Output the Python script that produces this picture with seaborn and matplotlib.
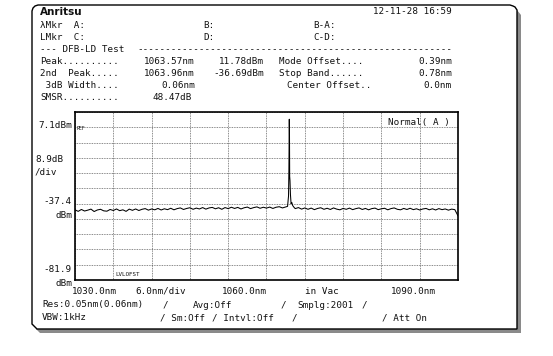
import numpy as np
import pandas as pd
import matplotlib
matplotlib.use("Agg")
import matplotlib.pyplot as plt
from matplotlib.patches import Polygon
import seaborn as sns

sns.set_style("white")
plt.rcParams['font.family'] = ['DejaVu Sans Mono', 'DejaVu Sans']

# instrument settings
ref_level = 7.1
db_per_div = 8.9
wl_start = 1030.0
wl_stop = 1090.0
nm_per_div = 6.0

# trace: noise floor left of the peak (1030.0 .. 1063.0 nm, 0.5 nm apart)
noise_step = 0.5
noise_left = [
    -41.0, -41.9, -40.8, -41.7, -41.2, -40.6, -42.0, -41.1, -40.7, -41.6,
    -41.8, -40.8, -41.4, -40.5, -41.5, -41.0, -41.9, -40.6, -41.3, -40.5,
    -41.4, -40.7, -40.3, -41.2, -40.5, -41.0, -40.2, -41.1, -40.4, -40.9,
    -40.1, -41.0, -40.3, -39.9, -40.8, -40.2, -39.8, -40.7, -40.0, -40.5,
    -39.7, -40.6, -39.9, -39.6, -40.4, -39.8, -40.7, -39.7, -40.3, -39.5,
    -40.2, -39.6, -40.5, -39.8, -39.4, -40.3, -39.7, -39.3, -40.1, -39.5,
    -40.0, -39.4, -40.2, -39.5, -39.2, -39.9, -39.3,
]
# DFB mode + side mode
peak_wl = [1063.30, 1063.45, 1063.51, 1063.54, 1063.57, 1063.60, 1063.63,
           1063.68, 1063.75, 1063.85, 1063.96, 1064.10, 1064.30]
peak_dbm = [-39.0, -33.0, -18.0, -2.0, 11.78, 2.0, -21.5,
            -24.0, -32.0, -37.5, -36.69, -38.5, -39.5]
# noise floor right of the peak (1064.5 .. 1090.0 nm)
right_start = 1064.5
noise_right = [
    -40.3, -39.7, -40.6, -39.9, -40.7, -40.0, -40.9, -40.2, -39.8, -40.7,
    -40.1, -40.8, -39.9, -40.6, -41.0, -40.2, -40.7, -40.0, -40.9, -40.3,
    -39.9, -40.8, -40.2, -41.0, -40.3, -40.0, -40.9, -40.4, -40.1, -41.0,
    -40.3, -39.9, -40.7, -41.0, -40.2, -40.8, -40.1, -40.9, -40.4, -41.1,
    -40.5, -40.2, -41.0, -40.4, -41.1, -40.3, -40.9, -40.5, -41.2, -40.6,
    -40.9, -44.5,
]

wl = np.concatenate([wl_start + noise_step * np.arange(len(noise_left)),
                     peak_wl,
                     right_start + noise_step * np.arange(len(noise_right))])
lvl = np.concatenate([noise_left, peak_dbm, noise_right])
trace = pd.DataFrame({"wavelength": wl, "level": lvl})

W, H = 553, 356
fig = plt.figure(figsize=(W / 100, H / 100), dpi=100)
fig.patch.set_facecolor("white")

# background layer in pixel coords for the screen frame and text
bg = fig.add_axes([0, 0, 1, 1])
bg.set_xlim(0, W)
bg.set_ylim(H, 0)
bg.axis("off")

frame = [(32, 324), (32, 11), (33, 8), (35, 6), (38, 5), (510, 5), (513, 6),
         (515, 7), (517, 10), (517, 329), (37, 329)]
shadow = [(517, 10), (521, 15), (521, 333), (40, 333), (36, 329), (517, 329)]
bg.add_patch(Polygon(shadow, closed=True, fc="#8a8a8a", ec="none"))
bg.add_patch(Polygon(frame, closed=True, fc="white", ec="black", lw=1.0))


def put(x, y, s, ha="left", size=6.7, **kw):
    bg.text(x, y, s, ha=ha, va="center", fontsize=size, color="#111111", **kw)


put(40, 12, "Anritsu", size=7.5, weight="bold", family="DejaVu Sans")
put(373, 12, "12-11-28 16:59")
put(40, 25, "λMkr  A:"); put(203, 25, "B:"); put(313, 25, "B-A:")
put(40, 37, "LMkr  C:"); put(203, 37, "D:"); put(313, 37, "C-D:")
put(40, 50, "--- DFB-LD Test")
put(452, 50, "-" * 56, ha="right")
put(40, 62, "Peak.........."); put(195, 62, "1063.57nm", ha="right")
put(264, 62, "11.78dBm", ha="right"); put(279, 62, "Mode Offset....")
put(452, 62, "0.39nm", ha="right")
put(40, 74, "2nd  Peak....."); put(195, 74, "1063.96nm", ha="right")
put(264, 74, "-36.69dBm", ha="right"); put(279, 74, "Stop Band......")
put(452, 74, "0.78nm", ha="right")
put(40, 86, " 3dB Width...."); put(195, 86, "0.06nm", ha="right")
put(287, 86, "Center Offset.."); put(452, 86, "0.0nm", ha="right")
put(40, 98, "SMSR.........."); put(192, 98, "48.47dB", ha="right")

# level scale
put(72, 125, "7.1dBm", ha="right")
put(77, 128, "REF", size=3.5)
put(35, 159, "8.9dB"); put(35, 172, "/div")
put(72, 202, "-37.4", ha="right"); put(72, 215, "dBm", ha="right")
put(72, 269, "-81.9", ha="right"); put(72, 283, "dBm", ha="right")
put(388, 122, "Normal( A )")
put(115, 275, "LVLOFST", size=4.2)

# wavelength scale and settings
put(72, 291, "1030.0nm"); put(135, 291, "6.0nm/div")
put(222, 291, "1060.0nm"); put(305, 291, "in Vac")
put(436, 291, "1090.0nm", ha="right")
put(42, 305, "Res:0.05nm(0.06nm)"); put(163, 305, "/")
put(193, 305, "Avg:Off"); put(281, 305, "/")
put(297, 305, "Smplg:2001"); put(362, 305, "/")
put(42, 318, "VBW:1kHz"); put(160, 318, "/ Sm:Off")
put(212, 318, "/ Intvl:Off"); put(292, 318, "/")
put(382, 318, "/ Att On")

# spectrum area
ax = fig.add_axes([75 / W, 1 - 280 / H, (458 - 75) / W, (280 - 112) / H])
ax.patch.set_alpha(0)
sns.lineplot(data=trace, x="wavelength", y="level", ax=ax, color="black",
             lw=0.75, estimator=None, sort=False)

bottom = ref_level - 10 * db_per_div
top = ref_level + db_per_div
ax.set_xlim(wl_start, wl_stop)
ax.set_ylim(bottom, top)
ax.set_xticks(wl_start + nm_per_div * np.arange(11))
ax.set_yticks(bottom + db_per_div * np.arange(12))
ax.set_xticklabels([])
ax.set_yticklabels([])
ax.tick_params(length=0)
ax.set_xlabel("")
ax.set_ylabel("")
ax.grid(True, color="#444444", lw=0.5, ls=(0, (1.2, 1.2)))
for sp in ax.spines.values():
    sp.set_visible(True)
    sp.set_color("black")
    sp.set_linewidth(1.2)

fig.savefig("out.png", dpi=100)
